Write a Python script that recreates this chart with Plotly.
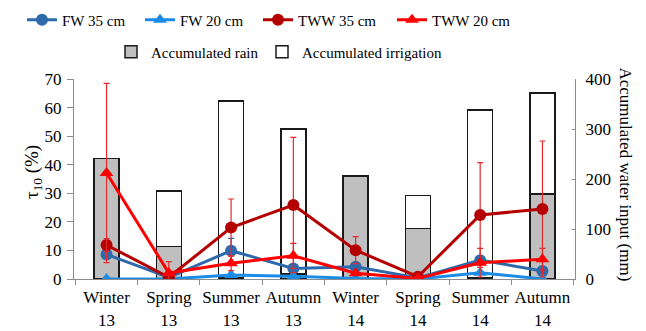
import plotly.graph_objects as go

# Seasons on the x axis
seasons = ["Winter<br>13", "Spring<br>13", "Summer<br>13", "Autumn<br>13",
           "Winter<br>14", "Spring<br>14", "Summer<br>14", "Autumn<br>14"]

# tau10 (%) by treatment and depth, with error bars (None = no bar)
fw_35 = [8.6, 0.6, 9.9, 3.7, 4.3, 0.4, 6.6, 2.8]
fw_35_err = [None, None, 4.3, None, None, None, None, None]
fw_20 = [0.0, 0.0, 1.4, 1.0, 0.2, 0.0, 2.2, 0.0]
tww_35 = [11.9, 0.6, 18.0, 25.9, 10.1, 0.8, 22.4, 24.5]
tww_35_err = [2.2, None, 10.0, 23.7, 4.7, None, 18.3, 23.8]
tww_20 = [37.1, 2.1, 5.5, 8.1, 2.0, 0.2, 5.7, 6.9]
tww_20_err = [31.4, 4.0, 2.6, 4.4, None, None, 5.0, 3.8]

# Accumulated water input (mm)
rain = [241, 65, 2, 10, 206, 101, 2, 170]
irrigation = [0, 111, 354, 290, 0, 66, 336, 202]

FONT = "Liberation Serif"
AX_GREY = "#8c8c8c"
W, H = 646, 331

fig = go.Figure()

# Stacked water-input bars on the right-hand axis (drawn underneath)
fig.add_trace(go.Bar(
    x=seasons, y=rain, name="Accumulated rain", width=0.4,
    marker=dict(color="#bfbfbf", line=dict(color="#1a1a1a", width=1.5)),
    yaxis="y", legend="legend5"))
fig.add_trace(go.Bar(
    x=seasons, y=irrigation, name="Accumulated irrigation", width=0.4,
    marker=dict(color="white", line=dict(color="#1a1a1a", width=1.5)),
    yaxis="y", legend="legend6"))

# tau10 lines on the left-hand axis
def line(name, y, err, color, symbol, err_color, legend):
    return go.Scatter(
        x=seasons, y=y, name=name, mode="lines+markers", yaxis="y2",
        line=dict(color=color, width=3),
        marker=dict(color=color, symbol=symbol, size=12),
        error_y=dict(type="data", array=err, visible=True,
                     color=err_color, thickness=1.2, width=3),
        legend=legend)

fig.add_trace(line("FW 35 cm", fw_35, fw_35_err, "#2e6aab", "circle", "#2e6aab", "legend"))
fig.add_trace(line("FW 20 cm", fw_20, [None] * 8, "#1a8ce6", "triangle-up", "#1a8ce6", "legend2"))
fig.add_trace(line("TWW 35 cm", tww_35, tww_35_err, "#b40000", "circle", "#e8282b", "legend3"))
fig.add_trace(line("TWW 20 cm", tww_20, tww_20_err, "#ff0000", "triangle-up", "#e8282b", "legend4"))


def legend_at(px, py):
    """One legend entry placed at a pixel position in the page."""
    return dict(
        orientation="h", xref="container", yref="container",
        x=px / W, y=1 - py / H, xanchor="left", yanchor="middle",
        font=dict(family=FONT, size=15), bgcolor="rgba(0,0,0,0)")


fig.update_layout(
    width=W, height=H,
    margin=dict(l=74, r=71, t=79, b=52, autoexpand=False),
    paper_bgcolor="white", plot_bgcolor="white",
    barmode="stack",
    font=dict(family=FONT, size=17, color="black"),
    xaxis=dict(
        type="category", tickson="boundaries", ticks="outside", ticklen=5,
        tickcolor=AX_GREY, showline=True, linecolor=AX_GREY, linewidth=1,
        showgrid=False, tickangle=0, automargin=False, ticklabelstandoff=3,
        tickfont=dict(family=FONT, size=17)),
    yaxis=dict(
        side="right", range=[0, 400], tickvals=[0, 100, 200, 300, 400],
        ticks="inside", ticklen=3, tickcolor=AX_GREY, automargin=False,
        ticklabelstandoff=6,
        showline=True, linecolor=AX_GREY, linewidth=1,
        showgrid=False, zeroline=False, tickfont=dict(family=FONT, size=17)),
    yaxis2=dict(
        overlaying="y", side="left", range=[0, 70],
        tickvals=[0, 10, 20, 30, 40, 50, 60, 70],
        ticks="outside", ticklen=6, tickcolor=AX_GREY, automargin=False,
        ticklabelstandoff=2,
        showline=True, linecolor=AX_GREY, linewidth=1,
        showgrid=False, zeroline=False, tickfont=dict(family=FONT, size=17)),
    legend=legend_at(22, 20),
    legend2=legend_at(140, 20),
    legend3=legend_at(258, 20),
    legend4=legend_at(392, 20),
    legend5=legend_at(111, 52),
    legend6=legend_at(262, 52),
    showlegend=True,
    annotations=[
        dict(text="τ<sub>10</sub> (%)", xref="paper", yref="paper",
             x=(19 - 74) / 501, y=(279 - 143) / 200, textangle=-90,
             showarrow=False, font=dict(family=FONT, size=19)),
        dict(text="Accumulated water input (mm)", xref="paper", yref="paper",
             x=(637 - 74) / 501, y=(279 - 174) / 200, textangle=90,
             showarrow=False, font=dict(family=FONT, size=17)),
    ],
)

fig.write_html("out.html")
